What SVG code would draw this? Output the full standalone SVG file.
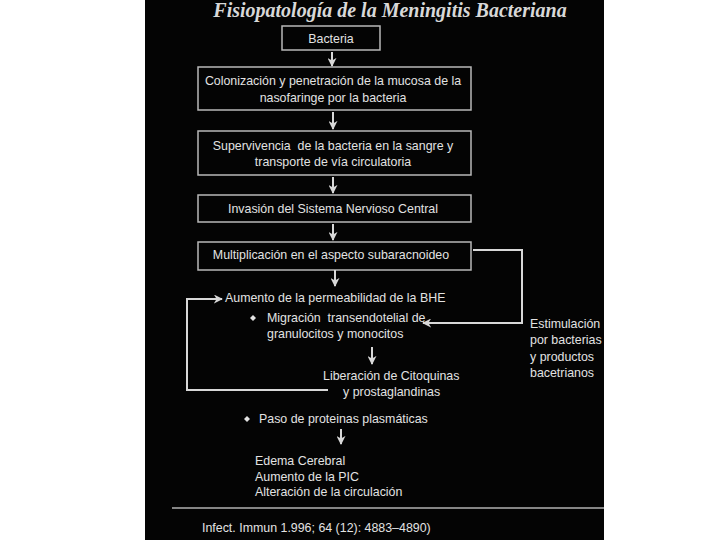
<svg xmlns="http://www.w3.org/2000/svg" width="720" height="540" viewBox="0 0 720 540">
<defs>
<marker id="ah" viewBox="0 0 10 10" refX="9" refY="5" markerWidth="9" markerHeight="9" markerUnits="userSpaceOnUse" orient="auto">
<path d="M0,0 L10,5 L0,10 L3,5 Z" fill="#d8d8d8"/>
</marker>
</defs>
<style>
.box{fill:none;stroke:#b8b8b8;stroke-width:1.5}
.t{font-family:"Liberation Sans",Arial,sans-serif;font-size:12.4px;fill:#e2e2e2;white-space:pre}
.c{text-anchor:middle}
.ln{fill:none;stroke:#d8d8d8;stroke-width:2}
.title{font-family:"Liberation Serif","Times New Roman",serif;font-style:italic;font-weight:bold;font-size:20px;fill:#d8d8d8}
</style>
<rect x="0" y="0" width="720" height="540" fill="#ffffff"/>
<rect x="145" y="0" width="459" height="540" fill="#040404"/>
<text class="title" x="390" y="17" text-anchor="middle">Fisiopatología de la Meningitis Bacteriana</text>

<g id="n1"><rect class="box" x="282" y="26" width="98" height="24"/><text class="t c" x="331" y="43">Bacteria</text></g>
<g id="n2"><rect class="box" x="198" y="67" width="273" height="43"/><text class="t c" x="333" y="85">Colonización y penetración de la mucosa de la</text><text class="t c" x="333" y="102">nasofaringe por la bacteria</text></g>
<g id="n3"><rect class="box" x="198" y="131" width="273" height="44"/><text class="t c" x="333" y="150" xml:space="preserve">Supervivencia  de la bacteria en la sangre y</text><text class="t c" x="333" y="166">transporte de vía circulatoria</text></g>
<g id="n4"><rect class="box" x="198" y="195" width="273" height="27"/><text class="t c" x="333" y="213">Invasión del Sistema Nervioso Central</text></g>
<g id="n5"><rect class="box" x="198" y="242" width="273" height="28"/><text class="t c" x="331" y="259">Multiplicación en el aspecto subaracnoideo</text></g>
<g id="n6"><text class="t" x="225" y="302">Aumento de la permeabilidad de la BHE</text></g>
<g id="n7"><path d="M253,315 l3,3 l-3,3 l-3,-3 Z" fill="#e2e2e2"/><text class="t" x="267" y="322" xml:space="preserve">Migración  transendotelial de</text><text class="t" x="267" y="338">granulocitos y monocitos</text></g>
<g id="n8"><text class="t" x="323" y="380">Liberación de Citoquinas</text><text class="t" x="343" y="396">y prostaglandinas</text></g>
<g id="n9"><text class="t" x="530" y="328">Estimulación</text><text class="t" x="530" y="344">por bacterias</text><text class="t" x="530" y="361">y productos</text><text class="t" x="530" y="377">bacetrianos</text></g>
<g id="n10"><path d="M247,416 l3,3 l-3,3 l-3,-3 Z" fill="#e2e2e2"/><text class="t" x="259" y="423">Paso de proteinas plasmáticas</text></g>
<g id="n11"><text class="t" x="255" y="465">Edema Cerebral</text><text class="t" x="255" y="481">Aumento de la PIC</text><text class="t" x="255" y="496">Alteración de la circulación</text></g>
<g id="ref"><line x1="172" y1="508" x2="604" y2="508" stroke="#b0b0b0" stroke-width="1.5"/><text class="t" x="202" y="532">Infect. Immun 1.996; 64 (12): 4883–4890)</text></g>

<g id="connectors">
<line class="ln" x1="332" y1="52" x2="332" y2="66" marker-end="url(#ah)"/>
<line class="ln" x1="333" y1="112" x2="333" y2="129" marker-end="url(#ah)"/>
<line class="ln" x1="333" y1="177" x2="333" y2="193" marker-end="url(#ah)"/>
<line class="ln" x1="333" y1="224" x2="333" y2="240" marker-end="url(#ah)"/>
<line class="ln" x1="335" y1="270" x2="335" y2="286" marker-end="url(#ah)"/>
<polyline class="ln" points="473,250 522,250 522,323 423,323" marker-end="url(#ah)"/>
<polyline class="ln" points="328,390 187,390 187,299 222,299" marker-end="url(#ah)"/>
<line class="ln" x1="372" y1="347" x2="372" y2="364" marker-end="url(#ah)"/>
<line class="ln" x1="341" y1="429" x2="341" y2="444" marker-end="url(#ah)"/>
</g>
</svg>
